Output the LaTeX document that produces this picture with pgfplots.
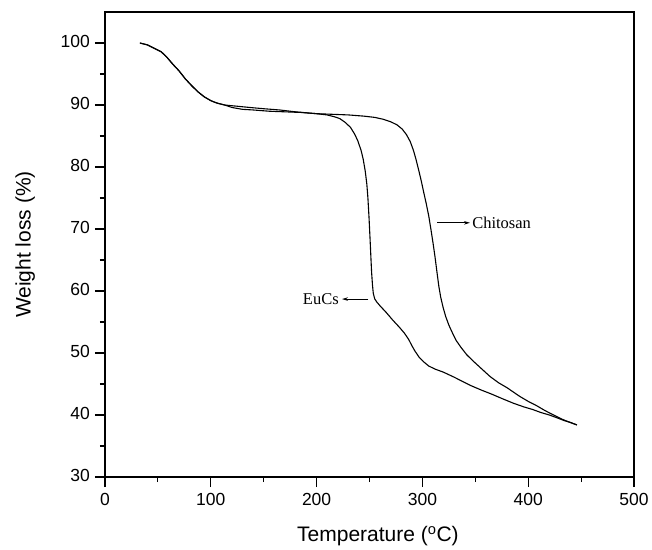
\documentclass[border=0pt]{standalone}
\usepackage{fontspec}
\setmainfont{Liberation Sans}
\newfontfamily\seriffont{Liberation Serif}
\usepackage{pgfplots}
\pgfplotsset{compat=1.18}
\usetikzlibrary{arrows.meta}

\pgfplotstableread{
x y
33 100.0
40 99.7
47 99.1
53 98.6
58 97.8
64 96.6
70 95.5
76 94.2
82 93.1
88 92.1
94 91.3
100 90.7
106 90.3
113 90.0
120 89.6
130 89.3
140 89.2
155 89.0
170 88.9
185 88.8
200 88.6
215 88.5
230 88.4
245 88.2
255 88.0
263 87.7
270 87.3
276 86.8
281 86.1
285 85.2
288.5 84.1
291.5 82.7
294 81.2
296.5 79.5
299 77.7
301 76.1
303.5 74.2
306 72.1
308 70.0
310 67.8
312 65.4
313.8 63.0
315.5 60.8
317.3 59.0
319.5 57.4
322 55.9
325 54.5
328.5 53.2
332 52.0
336.5 50.9
342 49.7
348 48.7
355 47.6
364 46.2
372 45.2
380 44.4
392 43.0
400 42.2
408 41.5
416 40.7
424 40.0
431 39.4
438 38.9
446 38.4
}\chitosan

\pgfplotstableread{
x y
33 100.0
40 99.7
47 99.1
53 98.6
58 97.8
64 96.6
70 95.5
76 94.2
82 93.1
88 92.1
94 91.3
100 90.7
106 90.3
113 90.0
125 89.8
137 89.6
150 89.4
165 89.2
180 88.9
200 88.6
210 88.4
217 88.1
222 87.8
227 87.2
232 86.4
236 85.3
239 84.2
242 82.7
244 81.3
246 79.3
247.5 77.2
248.5 75.0
249.5 72.0
250.5 68.5
251.3 65.5
252 63.0
252.8 61.0
253.6 59.6
255 58.7
257 58.2
260 57.6
266 56.5
272 55.3
278 54.2
283 53.2
287 52.2
290 51.2
293 50.3
297 49.3
301 48.6
306 47.9
312 47.4
320 46.9
330 46.1
345 44.8
356 44.0
365 43.4
376 42.6
386 41.9
396 41.3
404 40.9
412 40.4
420 40.0
428 39.5
434 39.1
440 38.8
446 38.4
}\eucs

\begin{document}
\begin{tikzpicture}
\begin{axis}[
  scale only axis,
  width=529bp, height=465bp,
  xmin=0, xmax=500, ymin=30, ymax=105,
  xtick={0,100,...,500}, ytick={30,40,...,100},
  minor x tick num=1, minor y tick num=1,
  tick pos=left, tick align=outside,
  major tick length=10bp, minor tick length=5bp,
  axis line style={line width=1.5bp},
  every tick/.style={black, line width=1.2bp},
  /pgf/number format/assume math mode=true,
  ticklabel style={font=\fontsize{17.5bp}{20bp}\selectfont},
  xticklabel style={anchor=center, inner sep=0pt, yshift=-14.7bp},
  yticklabel style={anchor=east, inner sep=0pt, xshift=-5bp},
  typeset ticklabels with strut=false,
  xlabel={Temperature (\textsuperscript{o}C)},
  ylabel={Weight loss (\%)},
  xlabel style={font=\fontsize{21bp}{24bp}\selectfont,
    at={(axis description cs:0.516,-0.127)}, anchor=center},
  ylabel style={font=\fontsize{21bp}{24bp}\selectfont,
    at={(axis description cs:-0.151,0.5)}, anchor=center},
]
\addplot[black, line width=1.1bp, no marks] table[x=x, y=y] {\chitosan};
\addplot[black, line width=1.1bp, no marks] table[x=x, y=y] {\eucs};

% annotations
\draw[line width=0.9bp, -{Stealth[length=6bp, width=3.5bp]}]
  (axis cs:314,71.0) -- (axis cs:345,71.0);
\node[anchor=west, inner sep=1pt, font=\seriffont\fontsize{16.5bp}{19bp}\selectfont]
  at (axis cs:346,71.0) {Chitosan};
\draw[line width=0.9bp, -{Stealth[length=6bp, width=3.5bp]}]
  (axis cs:249,58.7) -- (axis cs:224,58.7);
\node[anchor=east, inner sep=1pt, font=\seriffont\fontsize{16.5bp}{19bp}\selectfont]
  at (axis cs:222,58.7) {EuCs};
\end{axis}
\path ([shift={(-105bp,-71bp)}]current axis.south west) rectangle
      ([shift={(547bp,477bp)}]current axis.south west);
\end{tikzpicture}
\end{document}
